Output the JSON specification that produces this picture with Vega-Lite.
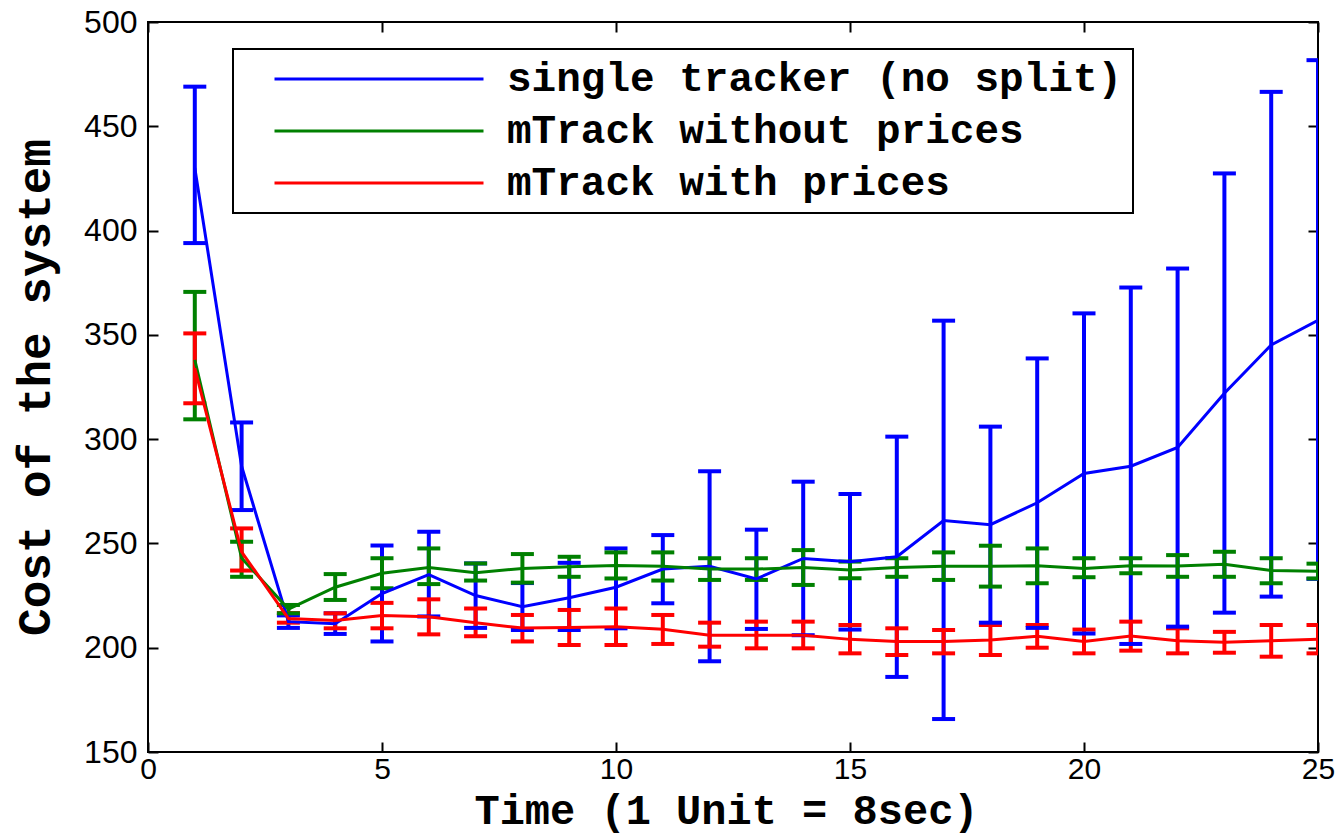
{
  "$schema": "https://vega.github.io/schema/vega-lite/v6.json",
  "width": 1170,
  "height": 730,
  "autosize": "none",
  "padding": {"left": 148, "top": 22, "right": 26, "bottom": 83},
  "background": "white",
  "config": {
    "view": {"stroke": "black", "strokeWidth": 2},
    "axis": {
      "grid": false,
      "domain": false,
      "tickColor": "black",
      "tickWidth": 2,
      "tickSize": -10,
      "labelFlush": false,
      "labelColor": "black",
      "labelFont": "Liberation Sans",
      "titleColor": "black",
      "titleFont": "Liberation Mono",
      "titleFontWeight": "bold"
    },
    "legend": {
      "orient": "none",
      "legendX": 85,
      "legendY": 27,
      "padding": 10,
      "strokeColor": "black",
      "strokeWidth": 2,
      "fillColor": "white",
      "labelFont": "Liberation Mono",
      "labelFontWeight": "bold",
      "labelFontSize": 41,
      "labelColor": "black",
      "labelLimit": 0,
      "symbolType": "stroke",
      "symbolSize": 43681,
      "symbolStrokeWidth": 3,
      "clipHeight": 40,
      "rowPadding": 11,
      "symbolOffset": 30,
      "labelOffset": 22
    }
  },
  "data": {
    "values": [
      {"s": "single tracker (no split)", "t": 1, "m": 430, "lo": 394, "hi": 469},
      {"s": "single tracker (no split)", "t": 2, "m": 287, "lo": 266, "hi": 308},
      {"s": "single tracker (no split)", "t": 3, "m": 212.5, "lo": 209.5, "hi": 215.5},
      {"s": "single tracker (no split)", "t": 4, "m": 211.5, "lo": 206.6, "hi": 216.5},
      {"s": "single tracker (no split)", "t": 5, "m": 226, "lo": 203, "hi": 249},
      {"s": "single tracker (no split)", "t": 6, "m": 235, "lo": 215, "hi": 255.6},
      {"s": "single tracker (no split)", "t": 7, "m": 225, "lo": 209.5, "hi": 240.4},
      {"s": "single tracker (no split)", "t": 8, "m": 219.7, "lo": 208.5, "hi": 231},
      {"s": "single tracker (no split)", "t": 9, "m": 224, "lo": 208.5, "hi": 240.7},
      {"s": "single tracker (no split)", "t": 10, "m": 229, "lo": 209.3, "hi": 247.6},
      {"s": "single tracker (no split)", "t": 11, "m": 237.7, "lo": 221.3, "hi": 254},
      {"s": "single tracker (no split)", "t": 12, "m": 239, "lo": 193.5, "hi": 284.6},
      {"s": "single tracker (no split)", "t": 13, "m": 233, "lo": 209, "hi": 256.6},
      {"s": "single tracker (no split)", "t": 14, "m": 242.8, "lo": 206, "hi": 279.6},
      {"s": "single tracker (no split)", "t": 15, "m": 241.2, "lo": 208.7, "hi": 273.7},
      {"s": "single tracker (no split)", "t": 16, "m": 243.6, "lo": 186, "hi": 301.2},
      {"s": "single tracker (no split)", "t": 17, "m": 261, "lo": 165.8, "hi": 356.8},
      {"s": "single tracker (no split)", "t": 18, "m": 259, "lo": 212, "hi": 306},
      {"s": "single tracker (no split)", "t": 19, "m": 269.5, "lo": 209.5, "hi": 338.7},
      {"s": "single tracker (no split)", "t": 20, "m": 283.5, "lo": 206.8, "hi": 360.3},
      {"s": "single tracker (no split)", "t": 21, "m": 287, "lo": 201.8, "hi": 372.7},
      {"s": "single tracker (no split)", "t": 22, "m": 296, "lo": 210.1, "hi": 381.8},
      {"s": "single tracker (no split)", "t": 23, "m": 322, "lo": 216.8, "hi": 427.4},
      {"s": "single tracker (no split)", "t": 24, "m": 345.2, "lo": 224.5, "hi": 466.5},
      {"s": "single tracker (no split)", "t": 25, "m": 357, "lo": 233, "hi": 481.7},
      {"s": "mTrack without prices", "t": 1, "m": 338, "lo": 309.5, "hi": 370.6},
      {"s": "mTrack without prices", "t": 2, "m": 243, "lo": 234, "hi": 250.8},
      {"s": "mTrack without prices", "t": 3, "m": 218.5, "lo": 216.5, "hi": 220.5},
      {"s": "mTrack without prices", "t": 4, "m": 229, "lo": 222.9, "hi": 235.3},
      {"s": "mTrack without prices", "t": 5, "m": 235.7, "lo": 228.5, "hi": 242.9},
      {"s": "mTrack without prices", "t": 6, "m": 238.5, "lo": 230.5, "hi": 247.6},
      {"s": "mTrack without prices", "t": 7, "m": 236, "lo": 232.2, "hi": 240.4},
      {"s": "mTrack without prices", "t": 8, "m": 238, "lo": 231.2, "hi": 244.9},
      {"s": "mTrack without prices", "t": 9, "m": 238.8, "lo": 234, "hi": 243.6},
      {"s": "mTrack without prices", "t": 10, "m": 239.4, "lo": 233.2, "hi": 245.7},
      {"s": "mTrack without prices", "t": 11, "m": 239, "lo": 232.2, "hi": 245.7},
      {"s": "mTrack without prices", "t": 12, "m": 237.7, "lo": 232.5, "hi": 242.9},
      {"s": "mTrack without prices", "t": 13, "m": 237.7, "lo": 232.5, "hi": 242.9},
      {"s": "mTrack without prices", "t": 14, "m": 238.5, "lo": 230.1, "hi": 246.8},
      {"s": "mTrack without prices", "t": 15, "m": 237.3, "lo": 233.3, "hi": 241.3},
      {"s": "mTrack without prices", "t": 16, "m": 238.5, "lo": 234, "hi": 242.9},
      {"s": "mTrack without prices", "t": 17, "m": 239, "lo": 232.5, "hi": 245.7},
      {"s": "mTrack without prices", "t": 18, "m": 239, "lo": 229.3, "hi": 248.9},
      {"s": "mTrack without prices", "t": 19, "m": 239.3, "lo": 230.9, "hi": 247.6},
      {"s": "mTrack without prices", "t": 20, "m": 238, "lo": 233.8, "hi": 242.9},
      {"s": "mTrack without prices", "t": 21, "m": 239.3, "lo": 235.7, "hi": 242.9},
      {"s": "mTrack without prices", "t": 22, "m": 239.2, "lo": 234, "hi": 244.4},
      {"s": "mTrack without prices", "t": 23, "m": 240, "lo": 234, "hi": 246},
      {"s": "mTrack without prices", "t": 24, "m": 237, "lo": 230.9, "hi": 242.9},
      {"s": "mTrack without prices", "t": 25, "m": 236.7, "lo": 233.2, "hi": 240.3},
      {"s": "mTrack with prices", "t": 1, "m": 334, "lo": 317.2, "hi": 350.7},
      {"s": "mTrack with prices", "t": 2, "m": 246, "lo": 237, "hi": 257.2},
      {"s": "mTrack with prices", "t": 3, "m": 214, "lo": 212, "hi": 216.6},
      {"s": "mTrack with prices", "t": 4, "m": 213, "lo": 209.3, "hi": 216.5},
      {"s": "mTrack with prices", "t": 5, "m": 215.4, "lo": 209.3, "hi": 221.5},
      {"s": "mTrack with prices", "t": 6, "m": 214.8, "lo": 206.4, "hi": 223.2},
      {"s": "mTrack with prices", "t": 7, "m": 212, "lo": 205.5, "hi": 218.8},
      {"s": "mTrack with prices", "t": 8, "m": 209.4, "lo": 203, "hi": 215.7},
      {"s": "mTrack with prices", "t": 9, "m": 209.7, "lo": 201.3, "hi": 218.1},
      {"s": "mTrack with prices", "t": 10, "m": 210, "lo": 201.3, "hi": 218.8},
      {"s": "mTrack with prices", "t": 11, "m": 208.8, "lo": 201.8, "hi": 215.7},
      {"s": "mTrack with prices", "t": 12, "m": 206, "lo": 200.5, "hi": 212},
      {"s": "mTrack with prices", "t": 13, "m": 206, "lo": 199.7, "hi": 212.5},
      {"s": "mTrack with prices", "t": 14, "m": 206, "lo": 199.7, "hi": 212.5},
      {"s": "mTrack with prices", "t": 15, "m": 204, "lo": 197.3, "hi": 210.9},
      {"s": "mTrack with prices", "t": 16, "m": 203, "lo": 196.5, "hi": 209.3},
      {"s": "mTrack with prices", "t": 17, "m": 203, "lo": 197.3, "hi": 208.5},
      {"s": "mTrack with prices", "t": 18, "m": 203.7, "lo": 196.5, "hi": 210.9},
      {"s": "mTrack with prices", "t": 19, "m": 205.5, "lo": 200, "hi": 210.9},
      {"s": "mTrack with prices", "t": 20, "m": 203, "lo": 197.3, "hi": 208.7},
      {"s": "mTrack with prices", "t": 21, "m": 205.6, "lo": 198.6, "hi": 212.5},
      {"s": "mTrack with prices", "t": 22, "m": 203.3, "lo": 197.3, "hi": 209.3},
      {"s": "mTrack with prices", "t": 23, "m": 202.6, "lo": 197.6, "hi": 207.6},
      {"s": "mTrack with prices", "t": 24, "m": 203.3, "lo": 195.7, "hi": 210.9},
      {"s": "mTrack with prices", "t": 25, "m": 204, "lo": 197.3, "hi": 210.9}
    ]
  },
  "layer": [
    {
      "mark": {"type": "rule", "strokeWidth": 4, "clip": true},
      "encoding": {
        "x": {"field": "t", "type": "quantitative", "scale": {"domain": [0, 25], "nice": false},
          "axis": {"orient": "bottom", "values": [0, 5, 10, 15, 20, 25], "title": "Time (1 Unit = 8sec)", "titleFontSize": 42, "labelFontSize": 30, "labelPadding": 12, "titleX": 578, "titleY": 71, "titleBaseline": "alphabetic", "titleAnchor": "middle"}},
        "y": {"field": "lo", "type": "quantitative", "scale": {"domain": [150, 500], "nice": false},
          "axis": {"orient": "left", "values": [150, 200, 250, 300, 350, 400, 450, 500], "title": "Cost of the system", "titleFontSize": 46, "labelFontSize": 32, "labelPadding": 21, "titleX": -113, "titleY": 365, "titleBaseline": "middle", "titleAnchor": "middle"}},
        "y2": {"field": "hi"},
        "color": {"field": "s", "type": "nominal", "scale": {"domain": ["single tracker (no split)", "mTrack without prices", "mTrack with prices"], "range": ["#0000FF", "#008000", "#FF0000"]}}
      }
    },
    {
      "mark": {"type": "tick", "orient": "horizontal", "size": 23, "thickness": 4, "clip": true, "opacity": 1},
      "encoding": {
        "x": {"field": "t", "type": "quantitative", "scale": {"domain": [0, 25], "nice": false}, "axis": null},
        "y": {"field": "hi", "type": "quantitative", "scale": {"domain": [150, 500], "nice": false}, "axis": null},
        "color": {"field": "s", "type": "nominal"}
      }
    },
    {
      "mark": {"type": "tick", "orient": "horizontal", "size": 23, "thickness": 4, "clip": true, "opacity": 1},
      "encoding": {
        "x": {"field": "t", "type": "quantitative", "scale": {"domain": [0, 25], "nice": false}, "axis": null},
        "y": {"field": "lo", "type": "quantitative", "scale": {"domain": [150, 500], "nice": false}, "axis": null},
        "color": {"field": "s", "type": "nominal"}
      }
    },
    {
      "mark": {"type": "line", "strokeWidth": 3, "clip": true},
      "encoding": {
        "x": {"field": "t", "type": "quantitative", "scale": {"domain": [0, 25], "nice": false},
          "axis": {"orient": "top", "values": [0, 5, 10, 15, 20, 25], "labels": false, "title": null}},
        "y": {"field": "m", "type": "quantitative", "scale": {"domain": [150, 500], "nice": false},
          "axis": {"orient": "right", "values": [150, 200, 250, 300, 350, 400, 450, 500], "labels": false, "title": null}},
        "color": {"field": "s", "type": "nominal", "sort": null, "legend": {"title": null, "symbolType": "stroke"}}
      }
    }
  ],
  "resolve": {"scale": {"x": "independent", "y": "independent"}, "axis": {"x": "independent", "y": "independent"}}
}
